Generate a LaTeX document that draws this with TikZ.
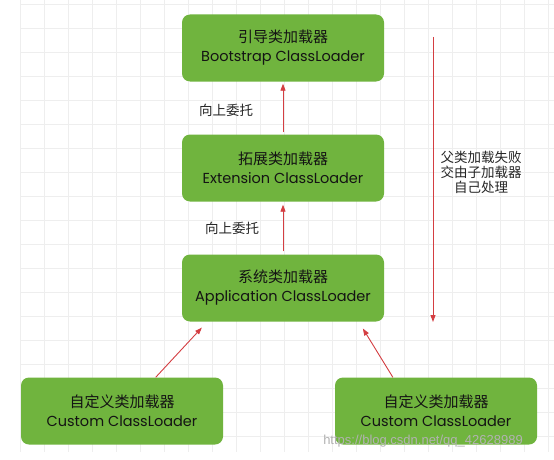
\documentclass[tikz,border=0pt]{standalone}
\usepackage{fontspec}
\setmainfont{Poppins}
\newfontfamily\cjk{Noto Sans CJK SC}
\newfontfamily\markfont{Liberation Sans}
\usetikzlibrary{arrows.meta}
\definecolor{LoaderGreen}{RGB}{112,180,62}
\definecolor{ArrowRed}{RGB}{212,62,66}
\definecolor{GridGray}{RGB}{238,238,238}

\tikzset{
  loader/.style = {fill = LoaderGreen, rounded corners = 8pt, minimum width = 202pt,
                   minimum height = 67pt, inner sep = 0pt, align = center, text = black!92,
                   font = \fontsize{14.5}{19}\selectfont},
  delegate/.style = {draw = ArrowRed, line width = 0.9pt, -{Triangle[length = 7pt, width = 5pt]}},
  note/.style = {font = \cjk\fontsize{13.5}{15}\selectfont, align = center, text = black!85}
}

\begin{document}
\begin{tikzpicture}[x = 1pt, y = -1pt]
              \useasboundingbox (0,0) rectangle (554,460);
              \fill [fill = white] (0,0) rectangle (554,460);
              % faint grid behind the boxes
              \foreach \x in {20, 44, ..., 548}
              \draw [GridGray, line width = 0.5pt] (\x,0) -- (\x,452);
              \foreach \y in {4, 28, ..., 452}
              \draw [GridGray, line width = 0.5pt] (20,\y) -- (554,\y);
              \node [loader] (boot) at (283, 48) {{\cjk\fontsize{15}{19}\selectfont 引导类加载器}\\Bootstrap ClassLoader};
              \node [loader] (ext) at (283, 168) {{\cjk\fontsize{15}{19}\selectfont 拓展类加载器}\\Extension ClassLoader};
              \node [loader] (app) at (283, 288) {{\cjk\fontsize{15}{19}\selectfont 系统类加载器}\\Application ClassLoader};
              \node [loader] (customL) at (122, 411) {{\cjk\fontsize{15}{19}\selectfont 自定义类加载器}\\Custom ClassLoader};
              \node [loader] (customR) at (436, 411) {{\cjk\fontsize{15}{19}\selectfont 自定义类加载器}\\Custom ClassLoader};
              \draw [delegate, shorten <= 2pt, shorten >= 2pt] (ext) -- (boot);
              \draw [delegate, shorten <= 3pt, shorten >= 3pt] (app) -- (ext);
              \draw [delegate, shorten >= 8pt] (customL.45) -- (app.-156);
              \draw [delegate, shorten >= 8pt] (customR.142) -- (app.-24);
              \coordinate (failTop) at (433, 37);
              \coordinate (failBottom) at (433, 322);
              \draw [delegate] (failTop) -- (failBottom);
              \node [note] (upA) at (226, 110) {向上委托};
              \node [note] (upB) at (232, 228) {向上委托};
              \node [note] (fail) at (481, 172) {父类加载失败\\交由子加载器\\自己处理};
              \node [font = \markfont\fontsize{13}{15}\selectfont, text = black!30] (watermark) at (423, 441) {https://blog.csdn.net/qq\_42628989};
            \end{tikzpicture}
\end{document}
